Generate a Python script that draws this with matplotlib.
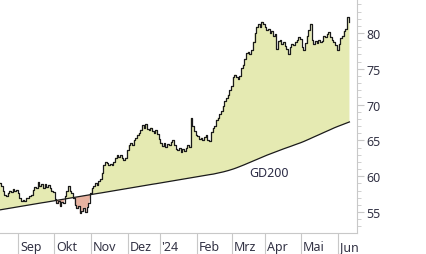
import numpy as np
import pandas as pd
import matplotlib
matplotlib.use("Agg")
import matplotlib.pyplot as plt
from matplotlib.ticker import MultipleLocator

plt.rcParams['font.family'] = ['Noto Sans', 'DejaVu Sans']

# Handelstage (Xetra-Feiertage raus)
holidays = ['2023-12-25', '2023-12-26', '2024-01-01', '2024-03-29', '2024-04-01', '2024-05-01']
month_labels = ['Sep', 'Okt', 'Nov', 'Dez', "'24", 'Feb', 'Mrz', 'Apr', 'Mai', 'Jun']
y_ticks = [55, 60, 65, 70, 75, 80]

# Schlusskurse je Monat
close_aug = [59.1, 58.6, 58.0, 57.4, 57.3, 57.7, 58.0, 57.8, 58.2, 57.9, 58.1]
close_sep = [57.6, 56.9, 56.5, 56.7, 56.6, 57.0, 56.9, 57.2, 57.4, 58.1, 58.5,
             58.3, 59.2, 58.7, 58.9, 58.4, 58.9, 58.5, 58.8, 58.3, 58.0]
close_okt = [57.8, 56.8, 56.2, 56.5, 55.9, 56.4, 56.3, 57.3, 57.9, 58.6, 58.0,
             57.6, 56.9, 56.0, 55.5, 55.8, 54.8, 55.2, 55.6, 55.0, 55.7, 56.2]
close_nov = [57.7, 58.3, 58.6, 59.0, 58.8, 59.3, 59.6, 60.5, 61.6, 62.0, 61.8,
             61.5, 61.7, 61.6, 62.0, 62.6, 62.9, 62.7, 62.9, 62.6, 62.3, 62.6]
close_dez = [63.6, 64.3, 64.6, 64.4, 65.0, 65.3, 65.8, 66.0, 66.5, 67.1, 66.8,
             67.3, 66.6, 66.5, 66.8, 66.3, 66.1, 66.4, 65.9]
close_jan = [65.2, 64.7, 64.2, 64.6, 64.1, 64.5, 64.3, 64.8, 65.0, 64.4, 63.8,
             63.6, 63.9, 63.4, 63.8, 63.5, 64.0, 64.3, 64.1, 68.1, 67.0, 66.3]
close_feb = [65.8, 65.6, 65.2, 65.4, 65.1, 65.5, 65.7, 65.0, 64.9, 66.2, 66.7,
             67.0, 67.9, 68.2, 68.7, 69.1, 69.8, 70.5, 70.9, 71.4, 72.0]
close_mrz = [72.6, 73.8, 74.2, 73.8, 73.6, 74.0, 75.1, 75.6, 76.4, 77.2, 77.4,
             77.1, 77.6, 78.8, 80.0, 80.9, 81.2, 80.9, 81.6, 81.3]
close_apr = [80.9, 80.4, 80.6, 80.0, 80.3, 79.6, 79.8, 77.8, 78.9, 79.0, 78.5,
             78.7, 78.2, 77.8, 77.0, 78.0, 78.5, 78.3, 78.8, 79.0, 79.4]
close_mai = [79.2, 78.0, 77.6, 78.6, 79.6, 80.4, 81.3, 79.0, 78.4, 78.9, 78.6,
             79.0, 78.7, 78.9, 79.6, 79.4, 79.9, 80.1, 79.5, 79.0, 78.8, 78.3]
close_jun = [77.6, 78.5, 79.3, 79.6, 80.3, 80.6, 82.2, 81.5]

# GD200 je Monat
gd_aug = [55.30, 55.34, 55.38, 55.42, 55.46, 55.50, 55.54, 55.58, 55.62, 55.65, 55.69]
gd_sep = [55.73, 55.77, 55.81, 55.85, 55.89, 55.93, 55.97, 56.01, 56.05, 56.09, 56.13,
          56.17, 56.21, 56.25, 56.29, 56.32, 56.36, 56.40, 56.44, 56.48, 56.52]
gd_okt = [56.56, 56.60, 56.64, 56.68, 56.72, 56.76, 56.80, 56.84, 56.88, 56.92, 56.95,
          56.99, 57.03, 57.07, 57.11, 57.15, 57.19, 57.23, 57.27, 57.31, 57.35, 57.39]
gd_nov = [57.43, 57.47, 57.51, 57.55, 57.59, 57.62, 57.66, 57.70, 57.74, 57.78, 57.82,
          57.86, 57.90, 57.94, 57.98, 58.02, 58.06, 58.10, 58.14, 58.18, 58.22, 58.26]
gd_dez = [58.29, 58.33, 58.37, 58.41, 58.45, 58.49, 58.53, 58.57, 58.61, 58.65, 58.69,
          58.73, 58.77, 58.81, 58.85, 58.89, 58.92, 58.96, 59.00]
gd_jan = [59.04, 59.08, 59.12, 59.16, 59.20, 59.24, 59.28, 59.32, 59.36, 59.40, 59.44,
          59.48, 59.52, 59.56, 59.59, 59.63, 59.67, 59.71, 59.75, 59.79, 59.83, 59.87]
gd_feb = [59.91, 59.95, 59.99, 60.03, 60.07, 60.11, 60.15, 60.19, 60.23, 60.26, 60.30,
          60.35, 60.40, 60.45, 60.50, 60.55, 60.61, 60.67, 60.73, 60.80, 60.87]
gd_mrz = [60.94, 61.02, 61.10, 61.19, 61.28, 61.37, 61.46, 61.56, 61.66, 61.76, 61.86,
          61.96, 62.06, 62.16, 62.26, 62.36, 62.46, 62.56, 62.66, 62.76]
gd_apr = [62.85, 62.95, 63.04, 63.13, 63.22, 63.31, 63.40, 63.49, 63.58, 63.67, 63.75,
          63.84, 63.92, 64.00, 64.09, 64.17, 64.26, 64.34, 64.43, 64.51, 64.60]
gd_mai = [64.68, 64.77, 64.87, 64.97, 65.08, 65.18, 65.29, 65.39, 65.50, 65.60, 65.71,
          65.81, 65.92, 66.02, 66.13, 66.23, 66.34, 66.44, 66.55, 66.65, 66.76, 66.86]
gd_jun = [66.95, 67.04, 67.13, 67.22, 67.31, 67.40, 67.49, 67.58]

close = np.array(close_aug + close_sep + close_okt + close_nov + close_dez + close_jan
                 + close_feb + close_mrz + close_apr + close_mai + close_jun)
gd200 = np.array(gd_aug + gd_sep + gd_okt + gd_nov + gd_dez + gd_jan
                 + gd_feb + gd_mrz + gd_apr + gd_mai + gd_jun)

dates = pd.bdate_range('2023-08-17', '2024-06-12')
dates = dates[~dates.isin(pd.to_datetime(holidays))]
x = np.arange(len(dates))
month_start = [i for i in range(1, len(dates)) if dates[i].month != dates[i - 1].month]

fig = plt.figure(figsize=(4.26, 2.55), dpi=100)
ax = fig.add_axes([0, 21 / 255, 357 / 426, 234 / 255])

green = '#e5eab2'
salmon = '#e8b3a1'
ax.fill_between(x, close, gd200, where=close >= gd200, interpolate=True,
                step='mid', color=green, lw=0)
ax.fill_between(x, close, gd200, where=close < gd200, interpolate=True,
                step='mid', color=salmon, lw=0)
ax.plot(x, gd200, color='#1a1a1a', lw=0.9)
ax.plot(x, close, color='#1a1a1a', lw=0.9, drawstyle='steps-mid')

ax.text(160.4, 60.5, 'GD200', ha='center', va='center', fontsize=9, color='#2b2b45')

ax.set_xlim(0, 212.5)
ax.set_ylim(52.07, 84.75)

grau = '#c8c8c8'
for s in ['top', 'left']:
    ax.spines[s].set_visible(False)
ax.spines['right'].set_color(grau)
ax.spines['bottom'].set_color(grau)

ax.yaxis.tick_right()
ax.set_yticks(y_ticks)
ax.yaxis.set_minor_locator(MultipleLocator(1))
ax.tick_params(axis='y', which='major', length=5, color=grau, pad=1.5,
               labelsize=9, labelcolor='#333345')
ax.tick_params(axis='y', which='minor', length=3, color=grau)

ax.set_xticks(month_start)
ax.set_xticklabels([])
ax.tick_params(axis='x', which='major', length=15.5, color=grau)
for i, lab in zip(month_start, month_labels):
    ax.annotate(lab, xy=(i, 0), xycoords=('data', 'axes fraction'),
                xytext=(2, -17), textcoords='offset pixels',
                ha='left', va='baseline', fontsize=9, color='#333345',
                annotation_clip=False)

fig.savefig('out.png', dpi=100)
